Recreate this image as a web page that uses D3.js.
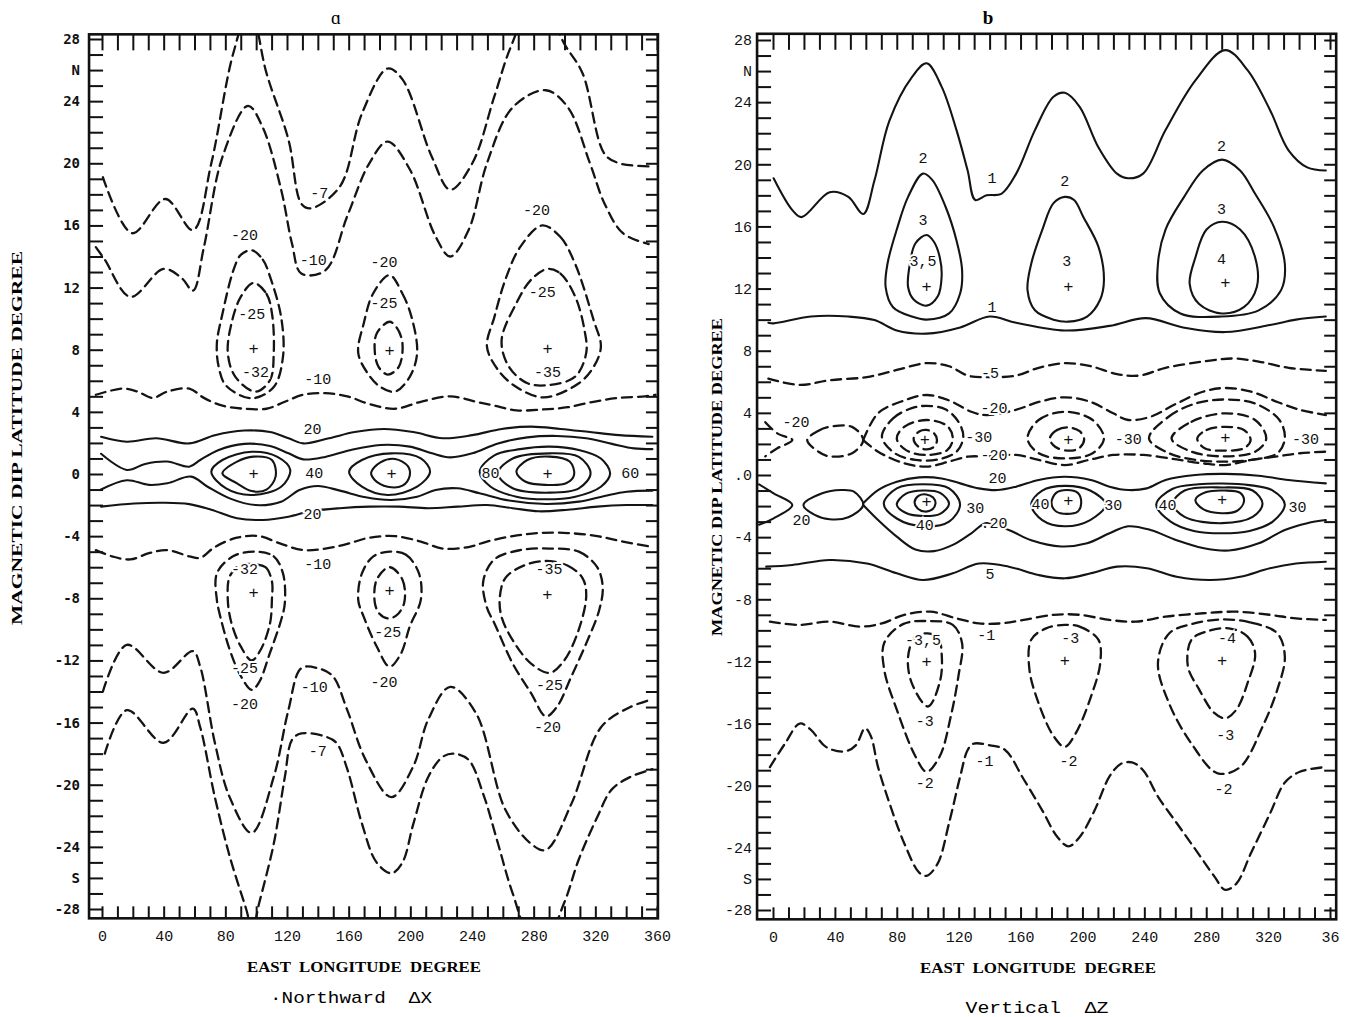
<!DOCTYPE html>
<html>
<head>
<meta charset="utf-8">
<script src="https://cdn.jsdelivr.net/npm/d3@7"></script>
<style>
  html, body { margin: 0; padding: 0; background: #fff; }
  svg { display: block; }
  .keep-space { white-space: pre; }
</style>
</head>
<body>
<svg id="chart" width="1350" height="1017"></svg>
<script>
// ---------------------------------------------------------------
// Contour lines, [east longitude, dip latitude]
// ---------------------------------------------------------------

// panel a : northward ΔX
const aNeg7North = [[0.6,19.1],[19.6,15.5],[41.1,17.7],[59,15.7],[70.9,20.0],[85.2,27.1],[96,30],[106.7,25.8],[121,21.5],[129.3,17.4],[135.3,17.1],[154.3,18.5],[168.6,23.2],[185.3,26.1],[194.9,25.4],[214,20.4],[225.9,18.3],[240.2,20],[254.5,24.3],[265.2,27.5],[283,31],[299.8,27.7],[311.7,25.8],[326,20.6],[335.6,20.0],[354.6,19.8]];
const aNeg10North = [[-4,14.6],[1.8,13.8],[18.4,11.4],[39.9,13.2],[51.8,12.6],[59,11.8],[66.1,14.6],[78.1,20.4],[94.7,23.7],[104.3,22.3],[116.2,18.3],[123.3,14.8],[129.3,12.9],[144.8,13.1],[159.1,16.6],[173.4,20],[185.3,21.4],[199.7,19.6],[216.3,15.3],[225.9,14],[237.8,15.7],[249.7,20],[266.4,23.6],[287.9,24.7],[302.2,23.6],[316.5,20],[326,17.4],[337.9,15.5],[354.6,14.8]];
const aNeg10Band = [[-4,5.1],[13.7,5.5],[23.2,5.3],[32.8,4.9],[42.3,5.3],[56.6,5.5],[66.1,4.9],[78.1,4.4],[92.3,4.2],[106.7,4.2],[118.6,4.65],[130.5,5.1],[144.8,5.2],[159.1,5.0],[173.4,4.5],[190.1,4.2],[206.8,4.65],[225.9,5.0],[242.6,4.65],[254.5,4.4],[268.8,4.1],[285.5,4.15],[302.2,4.3],[318.8,4.65],[335.5,4.9],[352.2,5.0],[359,5.1]];
const aNeg20N1 = [[97.1,14.4],[104.3,13.8],[109,12.7],[116.2,10.1],[117.4,7.55],[111.4,5.6],[97.1,4.87],[80.4,5.7],[75.7,6.9],[74.5,8.4],[78.1,10.3],[85.2,13.1],[90,14.1]];
const aNeg25N1 = [[98.3,12.3],[106.7,11.6],[110.3,10.3],[111.4,7.8],[109,6.05],[99.5,5.3],[86.4,6.27],[81.6,7.8],[84,9.7],[90,11.4]];
const aNeg20N2 = [[186.5,12.8],[194.9,11.6],[200.8,10.1],[204.4,7.8],[199.7,6.27],[190.1,5.3],[180.6,5.6],[172.2,6.5],[166.2,7.8],[169.8,9.7],[175.8,11.6]];
const aNeg25N2 = [[186.5,9.8],[191.3,9.4],[194.9,8.4],[192.5,6.9],[185.3,6.4],[179.4,6.9],[177,7.8],[178.2,9.05]];
const aNeg20N3 = [[285.5,16],[297.4,15.25],[307,13.5],[318.9,9.9],[323.6,8.2],[318.9,6.9],[309.3,5.84],[286.7,4.93],[268.8,5.6],[256.9,6.7],[249.7,8.2],[254.5,10.1],[261.6,12.5],[271.2,14.6]];
const aNeg25N3 = [[289,13.2],[297.4,12.9],[307,11.4],[312.9,9.3],[314.1,7.8],[307,6.27],[290.3,5.73],[276,5.84],[264,6.9],[259.2,8.6],[268.8,11.0],[278.3,12.5]];

const aPos20Top = [[-0.6,2.4],[16.1,2.08],[35.1,2.3],[56.6,1.97],[73.2,2.5],[92.3,2.8],[109,2.7],[121,2.3],[130.5,1.97],[147.2,2.3],[163.9,2.7],[183,2.9],[202,2.7],[221.1,2.3],[240.2,2.5],[259.2,2.9],[278.3,3.05],[297.4,2.9],[316.5,2.7],[335.5,2.5],[357,2.4]];
const aPos20Bottom = [[-0.6,-2.1],[20.8,-1.9],[39.9,-1.85],[56.6,-1.94],[70.9,-2.3],[87.6,-2.85],[104.3,-2.96],[121,-2.75],[135.3,-2.4],[154.3,-2.2],[173.4,-2.1],[192.5,-2.1],[211.6,-2.2],[230.6,-2.1],[249.7,-2.0],[266.4,-2.2],[283.1,-2.4],[302.2,-2.3],[321.2,-2.1],[340.3,-2.0],[357,-2.0]];
const aPos40Upper = [[-0.6,1.3],[16.1,0.26],[28,0.65],[42.3,0.8],[56.6,0.47],[63.7,0.9],[75.7,1.55],[92.3,1.94],[109,1.8],[121,1.33],[130.5,0.94],[144.8,1.1],[161.5,1.55],[180.6,1.87],[199.7,1.76],[214,1.33],[225.9,1.07],[240.2,1.33],[256.9,1.97],[275.9,2.36],[295,2.45],[314.1,2.3],[330.8,1.94],[345.1,1.65],[357,1.6]];
const aPos40Lower = [[-0.6,-1.0],[16.1,-0.4],[30.4,-0.7],[42.3,-0.6],[57.8,-0.17],[68.5,-0.82],[82.8,-1.57],[99.5,-2.0],[116.2,-1.78],[128.1,-1.03],[140,-0.77],[154.3,-1.07],[171,-1.5],[187.7,-1.67],[204.4,-1.46],[216.3,-1.03],[230.6,-0.92],[244.9,-1.24],[264,-1.71],[287.9,-1.93],[309.3,-1.78],[326,-1.41],[340.3,-1.14],[357,-1.07]];
const aPosCell1Out = [[70.9,0.15],[78.1,0.9],[97.1,1.43],[113.8,1.1],[122.1,0.26],[116.2,-0.82],[97.1,-1.35],[80.5,-0.93]];
const aPosCell1In = [[78.1,0.04],[87.6,0.8],[98.3,1.12],[110.2,0.9],[112.6,-0.17],[106.7,-1.0],[97.1,-1.1],[87.6,-0.6]];
const aPosCell2Out = [[160.3,0.15],[168.6,0.9],[187.7,1.33],[206.8,1.0],[212.8,0.15],[204.4,-0.82],[185.3,-1.35],[168.6,-0.82]];
const aPosCell2In = [[174.6,0.1],[180.6,0.75],[190.1,0.97],[198.4,0.5],[199.6,-0.11],[194.9,-0.75],[185.3,-0.82],[176.9,-0.39]];
const aPos60Cell3 = [[245,0.15],[254.5,1.2],[271.2,1.6],[290.3,1.76],[309.3,1.55],[323.6,1.0],[329.6,0.04],[323.6,-0.82],[307,-1.46],[287.9,-1.63],[268.8,-1.46],[252.1,-0.82]];
const aPos80Cell3 = [[256.9,0.04],[266.4,1.0],[290.3,1.33],[309.3,1.1],[316.9,0.04],[309.3,-0.92],[290.3,-1.2],[266.4,-0.92]];
const aPosCell3In = [[268.8,0.15],[275.9,0.9],[290.3,1.12],[303.4,0.8],[306.2,-0.06],[301,-0.6],[287.9,-0.7],[274.8,-0.5]];

const aNeg10SouthBand = [[-4,-4.9],[6.5,-5.3],[18.4,-5.5],[30.4,-5.1],[42.3,-4.9],[56.6,-5.3],[63.7,-5.4],[73.2,-4.7],[87.6,-4.1],[101.9,-4.0],[116.2,-4.5],[130.5,-4.9],[144.8,-4.8],[159.1,-4.5],[173.4,-4.1],[190.1,-4.0],[206.8,-4.35],[221.1,-4.8],[237.8,-4.7],[249.7,-4.35],[266.4,-4.0],[283.1,-3.8],[302.2,-3.8],[321.2,-4.0],[337.9,-4.35],[357,-4.7]];
const aNeg20S1 = [[99.5,-5.0],[111.4,-5.3],[117.4,-6.4],[118.6,-8.3],[116.2,-9.4],[109,-11.5],[101.9,-13.4],[97.1,-13.9],[90,-13.0],[82.8,-11.3],[75.7,-8.75],[74.5,-8.1],[74.5,-6.4],[85,-5.3]];
const aNeg25S1 = [[97.1,-5.8],[106,-6.0],[110.2,-6.9],[110.2,-8.1],[109,-9.6],[103,-11.3],[97.1,-12],[90,-11.1],[84,-9.6],[81.6,-8.1],[82.8,-6.6],[89,-5.9]];
const aNeg20S2 = [[186.5,-5.0],[197.2,-5.2],[205.6,-6.4],[206.8,-8.1],[199.7,-9.8],[193.7,-11.6],[186.5,-12.4],[178.2,-11.1],[169.8,-9.2],[166.2,-8.1],[168.6,-6.4],[176,-5.3]];
const aNeg25S2 = [[186.5,-6.0],[194.9,-6.8],[196,-8.3],[191,-9.1],[185.3,-9.3],[180,-9.0],[177,-8.3],[178.2,-6.8]];
const aNeg20S3 = [[290.3,-4.8],[309.3,-5.0],[321.2,-6.0],[324.8,-7.3],[322.4,-8.8],[314.1,-10.9],[304.6,-13.0],[295,-15.0],[287.9,-15.6],[278.3,-14.1],[266.4,-12.2],[254.5,-9.6],[249.7,-8.6],[247.3,-6.9],[254.5,-5.5],[271.2,-4.9]];
const aNeg25S3 = [[287.9,-5.6],[302.2,-5.9],[311.7,-6.7],[314.1,-7.8],[309.3,-10.0],[299.8,-12.0],[290.3,-12.8],[278.3,-12.2],[266.4,-10.7],[259.2,-9.2],[258,-8.0],[261.6,-6.7],[273.5,-5.9]];
const aNeg10South = [[0.6,-14.0],[16.1,-11.0],[39.9,-12.8],[58.9,-11.4],[63.7,-12.4],[73.2,-17.3],[82.8,-20.8],[97.1,-23.1],[111.4,-19.5],[120.9,-15.2],[129.3,-12.5],[140,-12.5],[149.6,-13.0],[159.1,-15.2],[171,-18.4],[187.7,-20.8],[202,-18.8],[211.6,-15.8],[225.9,-13.7],[242.6,-15.4],[261.6,-21.6],[278.3,-23.8],[287.9,-24.2],[304.6,-21.2],[323.7,-16.3],[342.7,-15.0],[357,-14.5]];
const aNeg7South = [[1.8,-18.0],[16.1,-15.2],[39.9,-17.3],[58.9,-15.1],[63.7,-16.3],[73.2,-20.8],[82.8,-24.6],[93.5,-28],[97.5,-29.3],[102,-27.6],[111.4,-23.8],[118.6,-19.5],[123.3,-17.1],[129.3,-16.7],[144.8,-16.9],[152,-17.3],[159.1,-19.0],[168.6,-22.5],[178.1,-25.0],[187.7,-25.7],[194.9,-25.0],[202,-22.5],[211.6,-19.5],[221.1,-18.2],[228.3,-18.0],[237.8,-18.4],[247.3,-20.6],[256.9,-23.8],[266.4,-27.0],[283,-31],[299.8,-27.6],[309.3,-24.8],[321.2,-22.1],[330.7,-20.3],[342.7,-19.5],[357,-19.0]];

const aLabels = [[141,18,'-7'],[137,13.7,'-10'],[92.4,15.3,'-20'],[97.1,10.2,'-25'],[99.5,6.5,'-32'],[183,13.56,'-20'],[183,10.9,'-25'],[281.9,16.9,'-20'],[285.5,11.6,'-25'],[289,6.5,'-35'],[140,6.05,'-10'],
  [136.5,2.8,'20'],[137.7,0,'40'],[136.5,-2.7,'20'],[252,0,'80'],[342.6,0,'60'],
  [140,-5.86,'-10'],[92.4,-6.2,'-32'],[290,-6.2,'-35'],[92.4,-12.6,'-25'],[92.4,-14.9,'-20'],[185.3,-10.25,'-25'],[183,-13.5,'-20'],[290.3,-13.7,'-25'],[289,-16.4,'-20'],[137.6,-13.8,'-10'],[140,-17.9,'-7']];
const aCentres = [[98.3,8.0],[186.5,7.9],[289,8.0],[98.3,0],[187.8,0],[289,0],[98.3,-7.7],[186.5,-7.57],[288.9,-7.8]];

// panel b : vertical ΔZ
const bPos1North = [[0.4,19.1],[12.5,17.05],[18.5,16.6],[36.6,18.2],[48.7,17.9],[58.3,16.8],[65.6,18.97],[75.2,22.8],[89.7,25.6],[99.3,26.5],[108.97,25.0],[118.6,22.2],[125.8,19.6],[130.7,17.7],[138,18.0],[147.6,18.1],[157.2,19.4],[169.3,22.2],[181.3,24.35],[188.6,24.6],[198.2,23.7],[210.3,21.1],[222.3,19.4],[229.6,19.1],[239.2,19.4],[253.7,22.2],[273,25.4],[292.3,27.35],[306.7,26.06],[321.2,23.5],[333.2,20.9],[345.3,19.8],[357.3,19.6]];
const bPos2Cell1 = [[96.9,19.4],[102.9,19.0],[111.4,17.3],[118.6,15.1],[122.2,13.2],[121,11.7],[113.8,10.4],[99.3,10.0],[89.7,10.2],[77.6,10.8],[72.8,12.1],[74,13.6],[80,15.8],[87.3,17.9]];
const bPos3Cell1 = [[99.3,15.45],[104.1,15.0],[107.8,14.0],[109,12.8],[106.5,11.5],[99.3,10.9],[90.9,11.3],[87.3,12.1],[88.5,13.6],[92,14.9]];
const bPos2Cell2 = [[188.6,17.9],[194.6,17.7],[200.6,16.6],[210.3,14.7],[213.9,12.55],[211.5,11.3],[203,10.2],[191,9.87],[181.3,10.0],[169.3,10.6],[164.5,11.9],[166.9,13.6],[174.1,15.8],[181.3,17.5]];
const bPos2Cell3 = [[290.3,20.3],[301.9,19.6],[311.6,18.1],[323.6,16.0],[330.8,13.6],[328.4,11.9],[313.9,10.6],[289.8,10.2],[263.3,10.4],[250,11.7],[248.8,13.6],[253.7,15.8],[265.7,17.9],[277.8,19.6]];
const bPos3Cell3 = [[290.3,16.3],[301.9,15.8],[311.6,14.0],[312.7,12.1],[304.3,10.8],[290,10.4],[275.4,11.0],[269.3,12.3],[273,14.0],[280.2,15.8]];
const bPos1Band = [[-3,9.8],[0.4,9.76],[24.5,10.2],[48.7,10.2],[65.6,9.97],[80,9.3],[99.3,9.1],[121,9.5],[140,10.2],[157.2,9.8],[188.6,9.3],[217.5,9.6],[241,10.1],[265,9.5],[292.3,9.2],[321.2,9.65],[338,10.0],[357.3,10.2]];

const bNeg5 = [[-3,6.2],[17.3,5.8],[36.6,6.1],[60.7,6.3],[80,6.76],[99.3,7.2],[113.8,7.0],[125.8,6.4],[140.3,6.3],[157.2,6.4],[171.7,6.9],[188.6,7.2],[205.4,7.0],[222.3,6.5],[236.8,6.4],[253.7,6.9],[277.8,7.3],[297.1,7.5],[313.9,7.3],[333.2,6.9],[357.3,6.7]];
const bNeg20Tip = [[-5,3.4],[2.8,2.68],[12.5,2.25],[2.8,1.72],[-5,1.2]];
const bNeg20Lens = [[22.1,2.25],[29.4,2.85],[36.6,3.1],[51.1,3.1],[58.3,2.25],[51.1,1.4],[36.6,1.2],[29.4,1.5]];
const bNeg20Upper = [[58.3,2.25],[67.9,3.97],[84.8,4.8],[99.3,5.15],[113.8,4.8],[128.2,4.07],[137.9,3.86],[157.2,4.2],[171.7,4.7],[188.6,5.0],[205.4,4.7],[219.9,3.97],[229.6,3.54],[244,3.75],[260.9,4.6],[277.8,5.36],[292.3,5.6],[309.1,5.36],[326,4.7],[340.5,4.2],[357.3,3.86]];
const bNeg20Lower = [[58.3,2.25],[67.9,1.5],[84.8,0.75],[99.3,0.54],[113.8,0.86],[125.8,1.18],[137.9,1.2],[157.2,1.29],[171.7,0.97],[188.6,0.64],[205.4,1.0],[219.9,1.29],[239.2,1.29],[260.9,1.0],[277.8,0.75],[292.3,0.64],[309.1,0.97],[326,1.2],[340.5,1.4],[357.3,1.5]];
const bNegCell1A = [[70.4,2.46],[77.6,3.65],[89.7,4.3],[99.3,4.45],[111.4,4.23],[119.8,3.43],[123,2.46],[118.6,1.5],[106.5,1.0],[92,0.97],[78.8,1.4]];
const bNegCell1B = [[80,2.35],[84.8,3.1],[99.3,3.54],[112.6,3.15],[116.2,2.35],[112.6,1.6],[99.3,1.29],[86,1.6]];
const bNegCell1C = [[90.9,2.35],[94.5,2.8],[99.3,2.9],[104.1,2.68],[106,2.25],[104.1,1.82],[99.3,1.65],[94,1.82]];
const bNegCell2A = [[164.5,2.35],[171.7,3.54],[188.6,4.07],[206.6,3.54],[213.9,2.35],[206.6,1.4],[188.6,1.07],[171.7,1.4]];
const bNegCell2B = [[178.9,2.35],[183.7,2.9],[191,3.06],[198.2,2.82],[201.1,2.28],[197.8,1.72],[191,1.57],[182.6,1.8]];
const bNegCell3A = [[243,2.35],[255.7,3.75],[273,4.6],[292.3,4.86],[311.6,4.6],[327.3,3.54],[330.8,2.35],[326,1.4],[309.1,0.97],[292.3,0.86],[273,0.97],[256,1.4]];
const bNegCell3B = [[257.6,2.35],[270.5,3.43],[292.3,3.97],[311.6,3.54],[318.8,2.35],[311.6,1.5],[292.3,1.2],[270.5,1.5]];
const bNegCell3C = [[274.2,2.35],[280.2,2.9],[292.3,3.1],[304.4,2.9],[308.7,2.25],[304.4,1.72],[292.3,1.57],[279,1.72]];

const bPos20Tip = [[-9,-0.6],[0.4,-1.18],[12.5,-1.93],[0.4,-2.79],[-9,-3.2]];
const bPos20Lens = [[19.7,-1.93],[31.8,-1.18],[43.8,-0.97],[52.3,-1.07],[58.3,-1.93],[48.7,-2.72],[36.6,-2.85],[27,-2.57]];
const bPos20Upper = [[58.3,-1.82],[67.9,-0.97],[80,-0.43],[94.5,-0.15],[109,-0.22],[121,-0.54],[133,-0.86],[145,-0.97],[157.2,-0.75],[171.7,-0.32],[188.6,-0.11],[205.4,-0.32],[217.5,-0.75],[229.6,-0.97],[241.6,-0.86],[253.7,-0.32],[273,0.0],[292.3,0.07],[313.9,-0.05],[333.2,-0.32],[357.3,-0.54]];
const bPos20Lower = [[58.3,-1.93],[67.9,-2.9],[80,-3.97],[92,-4.8],[104.1,-4.9],[116.2,-4.5],[128.2,-3.75],[137.9,-3.1],[152.4,-3.54],[166.9,-4.2],[186.2,-4.6],[203,-4.4],[217.5,-3.75],[229.6,-3.3],[244,-3.54],[260.9,-4.2],[277.8,-4.7],[294.7,-4.86],[313.9,-4.4],[330.8,-3.54],[345.3,-3.1],[357.3,-2.9]];
const bPosCell1A = [[71.6,-1.85],[80,-0.86],[96.9,-0.6],[113.8,-0.86],[120.9,-1.9],[113.8,-3.0],[96.9,-3.3],[80,-2.8]];
const bPosCell1B = [[80,-1.9],[86,-1.2],[97,-1.0],[108,-1.15],[113.8,-1.85],[108,-2.5],[97,-2.64],[86,-2.45]];
const bPosCell1C = [[91.5,-1.75],[94,-1.35],[99,-1.25],[103.5,-1.45],[105,-1.85],[102.5,-2.25],[98,-2.35],[93.5,-2.15]];
const bPosCell2A = [[166.9,-1.9],[174,-1.0],[188.6,-0.7],[205,-1.0],[215,-1.9],[205,-2.9],[188.6,-3.3],[174,-2.9]];
const bPosCell2B = [[180,-1.8],[183,-1.15],[190,-0.97],[197,-1.15],[199.2,-1.8],[197,-2.35],[190,-2.5],[183,-2.35]];
const bPosCell3A = [[247.7,-1.9],[258,-0.9],[275,-0.6],[290.3,-0.55],[308,-0.65],[323,-1.0],[330.8,-1.9],[323,-3.0],[308,-3.6],[290.3,-3.75],[272,-3.6],[257,-3.0]];
const bPosCell3B = [[258.5,-1.85],[266,-1.0],[290.3,-0.8],[310,-1.0],[316.4,-1.85],[310,-2.7],[290.3,-3.1],[266,-2.7]];
const bPosCell3C = [[273,-1.6],[280,-1.1],[292,-1.0],[302,-1.15],[304.4,-1.7],[300,-2.3],[290,-2.46],[278,-2.2]];
const bPos5 = [[-4.4,-5.9],[12.5,-5.79],[36.6,-5.47],[60.7,-5.7],[80,-6.33],[96.9,-6.76],[116.2,-6.33],[133.1,-5.7],[152.4,-5.9],[171.7,-6.44],[188.6,-6.65],[205.4,-6.33],[222.3,-5.9],[241.6,-6.0],[260.9,-6.55],[282.6,-6.76],[301.9,-6.55],[321.2,-6.0],[338,-5.7],[357.3,-5.58]];

const bNeg1Band = [[-2,-9.44],[17.3,-9.65],[36.6,-9.44],[55.9,-9.76],[70.4,-9.55],[84.8,-9.0],[101.7,-8.8],[118.6,-9.23],[133.1,-9.55],[147.6,-9.55],[162.1,-9.33],[181.3,-9.0],[198.2,-9.0],[217.5,-9.33],[234.4,-9.44],[253.7,-9.12],[277.8,-8.9],[299.5,-8.8],[321.2,-9.0],[338,-9.23],[357.3,-9.33]];
const bNeg2Cell1 = [[99.3,-9.4],[116.2,-9.65],[122.2,-10.83],[119.8,-12.97],[115,-15.5],[107.8,-18.1],[99.3,-19.1],[92,-18.1],[80,-15.1],[71.9,-12.54],[71.9,-10.8],[84,-9.6]];
const bNeg3Cell1 = [[100,-10.2],[107,-10.5],[109,-11.5],[108.1,-13.2],[100.2,-14.9],[89.7,-13.4],[87.3,-11.7],[92,-10.4]];
const bNeg2Cell2 = [[188.6,-9.65],[198.2,-9.76],[210.3,-10.6],[211.5,-12.1],[205.4,-14.3],[195.8,-16.6],[188.6,-17.5],[181.3,-16.8],[171.7,-14.7],[165.7,-12.5],[166.9,-10.6],[176.5,-9.87]];
const bNeg2Cell3 = [[289.8,-9.3],[309.1,-9.5],[326,-10.2],[330.8,-11.7],[326,-13.8],[316.4,-16.2],[301.9,-18.8],[287.4,-19.2],[270.5,-17.3],[256,-14.7],[248.8,-12.1],[256,-10.2],[270.5,-9.6]];
const bNeg3Cell3 = [[294.7,-9.87],[306.7,-10.4],[311.6,-11.5],[306.7,-13.4],[299.5,-15.1],[292.3,-15.66],[285,-15.3],[275.4,-13.8],[268.1,-12.3],[270.5,-10.6],[280.2,-10.08]];
const bNeg1South = [[-2,-18.8],[7.7,-17.3],[17.3,-16.0],[24.5,-16.4],[34.2,-17.5],[46.2,-17.8],[53.5,-17.4],[59.5,-16.3],[63.2,-16.8],[67.9,-18.8],[75.2,-21.1],[84.8,-23.7],[94.5,-25.6],[99.3,-25.8],[106.5,-25],[113.8,-22.4],[121,-19.4],[125.8,-17.7],[129.5,-17.3],[140.3,-17.4],[150,-17.7],[162.1,-19.6],[174.1,-21.6],[183.8,-23.3],[191,-23.9],[198.2,-23.3],[207.8,-21.6],[217.5,-19.4],[224.7,-18.6],[232,-18.5],[239.2,-19.0],[248.8,-20.7],[260.9,-22.4],[273,-24.1],[285,-25.8],[292.3,-26.7],[299.5,-26.3],[309.1,-24.3],[321.2,-21.8],[330.8,-19.8],[340.5,-19.1],[357.3,-18.8]];

const bLabels = [[141.6,19.0,'1'],[96.9,20.3,'2'],[96.9,16.3,'3'],[96.9,13.7,'3,5'],[188.6,18.8,'2'],[189.8,13.7,'3'],[289.8,21.1,'2'],[289.8,17.0,'3'],[289.8,13.8,'4'],[141.5,10.7,'1'],
  [140.3,6.5,'-5'],[14.9,3.3,'-20'],[142.8,4.2,'-20'],[133,2.35,'-30'],[142.8,1.2,'-20'],[229.6,2.25,'-30'],[344.2,2.25,'-30'],
  [145.1,-0.32,'20'],[18.5,-3.0,'20'],[130.7,-2.25,'30'],[98.1,-3.33,'40'],[142.8,-3.2,'.20'],[172.9,-1.94,'40'],[219.9,-2.05,'30'],[254.9,-2.05,'40'],[339,-2.15,'30'],[140.3,-6.44,'5'],
  [137.9,-10.4,'-1'],[96.9,-10.7,'-3,5'],[98.1,-15.9,'-3'],[98.1,-19.95,'-2'],[192.2,-10.6,'-3'],[191,-18.5,'-2'],[293.4,-10.6,'-4'],[292.3,-16.8,'-3'],[291.1,-20.3,'-2'],[136.7,-18.5,'-1']];
const bCentres = [[99.3,12.1],[190.9,12.1],[292.3,12.3],[98.1,2.25],[190.9,2.25],[292.3,2.35],[99.3,-1.79],[190.9,-1.72],[290.3,-1.62],[99.3,-12.1],[188.6,-12.0],[290.3,-12.0]];

// axis ticks / labels
const lonTicks = d3.range(0, 361, 10);
const lonLabels = [0, 40, 80, 120, 160, 200, 240, 280, 320, 360];
const latTicks = d3.range(-28, 29, 1);
const latLabels = [28, 26, 24, 20, 16, 12, 8, 4, 0, -4, -8, -12, -16, -20, -24, -26, -28];

// ---------------------------------------------------------------
const svg = d3.select('#chart');
const mono = "'Liberation Mono', 'DejaVu Sans Mono', monospace";

const panels = [
  {
    id: 'a',
    x: d3.scaleLinear().domain([0, 360]).range([102, 657]),
    y: d3.scaleLinear().domain([-28, 28]).range([909, 39]),
    frameLon: [-8.4, 360.6], frameLat: [-28.6, 28.3],
    boldLat: true, zeroLabel: '0', lastLon: '360',
    solid: [aPos20Top, aPos20Bottom, aPos40Upper, aPos40Lower],
    solidClosed: [aPosCell1Out, aPosCell1In, aPosCell2Out, aPosCell2In, aPos60Cell3, aPos80Cell3, aPosCell3In],
    dashed: [aNeg7North, aNeg10North, aNeg10Band, aNeg10SouthBand, aNeg10South, aNeg7South],
    dashedClosed: [aNeg20N1, aNeg25N1, aNeg20N2, aNeg25N2, aNeg20N3, aNeg25N3, aNeg20S1, aNeg25S1, aNeg20S2, aNeg25S2, aNeg20S3, aNeg25S3],
    labels: aLabels, centres: aCentres,
    title: 'ɑ', titleX: 336, xTitle: 'EAST  LONGITUDE  DEGREE', xTitleX: 364, xTitleY: 972, xTitleLen: 234,
    sub: '·Northward  ΔX', subX: 351, subY: 1003, subLen: 162,
    yTitleX: 17, yTitleY: 438, yTitleLen: 374, latLabelX: 80
  },
  {
    id: 'b',
    x: d3.scaleLinear().domain([0, 360]).range([773, 1330]),
    y: d3.scaleLinear().domain([-28, 28]).range([910, 40]),
    frameLon: [-10.3, 364.0], frameLat: [-28.6, 28.4],
    boldLat: false, zeroLabel: '.0', lastLon: '36',
    solid: [bPos1North, bPos1Band, bPos20Tip, bPos20Upper, bPos20Lower, bPos5],
    solidClosed: [bPos2Cell1, bPos3Cell1, bPos2Cell2, bPos2Cell3, bPos3Cell3, bPos20Lens, bPosCell1A, bPosCell1B, bPosCell1C, bPosCell2A, bPosCell2B, bPosCell3A, bPosCell3B, bPosCell3C],
    dashed: [bNeg5, bNeg20Tip, bNeg20Upper, bNeg20Lower, bNeg1Band, bNeg1South],
    dashedClosed: [bNeg20Lens, bNegCell1A, bNegCell1B, bNegCell1C, bNegCell2A, bNegCell2B, bNegCell3A, bNegCell3B, bNegCell3C, bNeg2Cell1, bNeg3Cell1, bNeg2Cell2, bNeg2Cell3, bNeg3Cell3],
    labels: bLabels, centres: bCentres,
    title: 'b', titleX: 988, xTitle: 'EAST  LONGITUDE  DEGREE', xTitleX: 1038, xTitleY: 973, xTitleLen: 236,
    sub: 'Vertical  ΔZ', subX: 1037, subY: 1013, subLen: 143,
    yTitleX: 717, yTitleY: 477, yTitleLen: 318, latLabelX: 752
  }
];

panels.forEach(drawPanel);

function drawPanel(p) {
  const x = p.x, y = p.y;
  const left = x(p.frameLon[0]), right = x(p.frameLon[1]);
  const top = y(p.frameLat[1]), bottom = y(p.frameLat[0]);
  const g = svg.append('g').attr('class', 'panel-' + p.id);

  svg.append('clipPath').attr('id', 'clip-' + p.id)
    .append('rect')
    .attr('x', left).attr('y', top)
    .attr('width', right - left).attr('height', bottom - top);

  _renderAxes(g, p, left, right, top, bottom);
  _renderContours(g, p);
  _renderLabels(g, p);

  g.append('rect')
    .attr('x', left).attr('y', top)
    .attr('width', right - left).attr('height', bottom - top)
    .attr('fill', 'none').attr('stroke', '#111').attr('stroke-width', 2.6);

  _renderTitles(g, p);
}

function _renderAxes(g, p, left, right, top, bottom) {
  const x = p.x, y = p.y;
  const tickStyle = sel => {
    sel.select('.domain').remove();
    sel.selectAll('line').attr('stroke', '#111').attr('stroke-width', 2);
  };

  g.append('g').attr('transform', `translate(0,${top})`)
    .call(d3.axisBottom(x).tickValues(lonTicks).tickSize(16).tickFormat(''))
    .call(tickStyle);
  g.append('g').attr('transform', `translate(0,${bottom})`)
    .call(d3.axisTop(x).tickValues(lonTicks).tickSize(12).tickFormat(''))
    .call(tickStyle);
  g.append('g').attr('transform', `translate(${left},0)`)
    .call(d3.axisRight(y).tickValues(latTicks).tickSize(14).tickFormat(''))
    .call(tickStyle);
  g.append('g').attr('transform', `translate(${right},0)`)
    .call(d3.axisLeft(y).tickValues(latTicks).tickSize(12).tickFormat(''))
    .call(tickStyle);

  // longitude labels
  const xl = g.append('g').attr('transform', `translate(0,${bottom})`)
    .call(d3.axisBottom(x).tickValues(lonLabels).tickSize(0).tickPadding(12)
      .tickFormat(d => d === 360 ? p.lastLon : d));
  xl.select('.domain').remove();
  xl.selectAll('text').attr('font-family', mono).attr('font-size', 15).attr('fill', '#111');

  // latitude labels
  const yl = g.append('g').attr('transform', `translate(${p.latLabelX},0)`)
    .call(d3.axisLeft(y).tickValues(latLabels).tickSize(0).tickPadding(0)
      .tickFormat(d => d === 26 ? 'N' : d === -26 ? 'S' : d === 0 ? p.zeroLabel : d));
  yl.select('.domain').remove();
  yl.selectAll('text')
    .attr('font-family', p.boldLat ? "'DejaVu Sans Mono', monospace" : mono)
    .attr('font-weight', p.boldLat ? 'bold' : 'normal')
    .attr('font-size', p.boldLat ? 14 : 15)
    .attr('fill', '#111');
}

function _renderContours(g, p) {
  const x = p.x, y = p.y;
  const open = d3.line().x(d => x(d[0])).y(d => y(d[1])).curve(d3.curveCatmullRom.alpha(0.5));
  const closed = d3.line().x(d => x(d[0])).y(d => y(d[1])).curve(d3.curveCatmullRomClosed.alpha(0.5));
  const layer = g.append('g').attr('clip-path', `url(#clip-${p.id})`)
    .attr('fill', 'none').attr('stroke', '#141414').attr('stroke-linecap', 'round');

  const sets = [
    [p.solid, open, null], [p.solidClosed, closed, null],
    [p.dashed, open, '10 6'], [p.dashedClosed, closed, '10 6']
  ];
  sets.forEach(([list, gen, dash]) => {
    layer.selectAll(null).data(list).enter()
      .append('path')
      .attr('d', gen)
      .attr('stroke-width', dash ? 2.3 : 2.1)
      .attr('stroke-dasharray', dash);
  });
}

function _renderLabels(g, p) {
  const x = p.x, y = p.y;
  g.append('g').selectAll('text').data(p.labels).enter()
    .append('text')
    .attr('x', d => x(d[0])).attr('y', d => y(d[1]))
    .attr('text-anchor', 'middle').attr('dominant-baseline', 'central')
    .attr('font-family', mono).attr('font-size', 15).attr('fill', '#111')
    .attr('stroke', '#fff').attr('stroke-width', 4).attr('paint-order', 'stroke')
    .text(d => d[2]);

  g.append('g').selectAll('text').data(p.centres).enter()
    .append('text')
    .attr('x', d => x(d[0])).attr('y', d => y(d[1]))
    .attr('text-anchor', 'middle').attr('dominant-baseline', 'central')
    .attr('font-family', mono).attr('font-size', 17).attr('fill', '#111')
    .text('+');
}

function _renderTitles(g, p) {
  g.append('text')
    .attr('x', p.titleX).attr('y', 24)
    .attr('text-anchor', 'middle')
    .attr('font-family', "'Liberation Serif', serif").attr('font-size', 19).attr('font-weight', p.id === 'b' ? 'bold' : 'normal')
    .text(p.title);

  g.append('text')
    .attr('class', 'keep-space')
    .attr('x', p.xTitleX).attr('y', p.xTitleY)
    .attr('text-anchor', 'middle')
    .attr('font-family', "'Liberation Serif', serif").attr('font-weight', 'bold').attr('font-size', 14)
    .attr('textLength', p.xTitleLen).attr('lengthAdjust', 'spacingAndGlyphs')
    .text(p.xTitle);

  g.append('text')
    .attr('class', 'keep-space')
    .attr('x', p.subX).attr('y', p.subY)
    .attr('text-anchor', 'middle')
    .attr('font-family', mono).attr('font-size', 17)
    .attr('textLength', p.subLen).attr('lengthAdjust', 'spacingAndGlyphs')
    .text(p.sub);

  g.append('text')
    .attr('transform', `translate(${p.yTitleX},${p.yTitleY}) rotate(-90)`)
    .attr('text-anchor', 'middle').attr('dominant-baseline', 'central')
    .attr('font-family', "'Liberation Serif', serif").attr('font-weight', 'bold').attr('font-size', 14)
    .attr('textLength', p.yTitleLen).attr('lengthAdjust', 'spacingAndGlyphs')
    .text('MAGNETIC DIP LATITUDE DEGREE');
}
</script>
</body>
</html>
